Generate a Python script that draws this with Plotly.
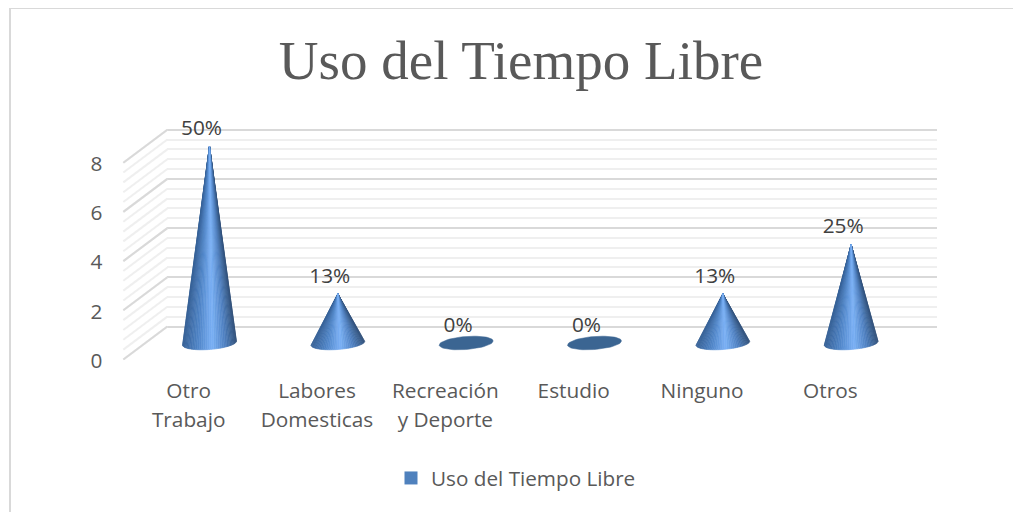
import numpy as np
import plotly.graph_objects as go
from plotly.colors import sample_colorscale

# the page body has an 8px margin, so the figure starts at (8, 8) in the window
PAGE_W, PAGE_H = 1021, 512
OFFSET = 8
WIDTH, HEIGHT = PAGE_W - OFFSET, PAGE_H - OFFSET

categories = ["Otro<br>Trabajo", "Labores<br>Domesticas", "Recreación<br>y Deporte", "Estudio", "Ninguno", "Otros"]
values = [8, 2, 0, 0, 2, 4]
pct_labels = ["50%", "13%", "0%", "0%", "13%", "25%"]
y_ticks = [0, 2, 4, 6, 8]
series_name = "Uso del Tiempo Libre"
chart_title = "Uso del Tiempo Libre"

TEXT = "#595959"
FONT = "Open Sans"
MAJOR = "#d9d9d9"
MINOR = "#efefef"

# pixel scale of the fake 3D box
PX_CAT = 128.33
PX_UNIT = 24.6
X0_PX, Y0_PX = 209.5, 343        # first category, value 0 (mid depth)
DX_PX, DY_PX = 22, 16.5          # half depth of the box

# base ellipse of the cones
RX = 27 / PX_CAT
RY = 6.5 / PX_UNIT
TILT = 2 / PX_UNIT
shades = [[0, "#345f94"], [0.3, "#5287ca"], [0.55, "#7ab0f5"], [0.78, "#5082c2"], [1, "#2f4f78"]]
N_WEDGES = 40


def xdom(left, right):
    return [(left - OFFSET) / WIDTH, (right - OFFSET) / WIDTH]


def ydom(top, bottom):
    return [1 - (bottom - OFFSET) / HEIGHT, 1 - (top - OFFSET) / HEIGHT]


def xpos(px):
    return (px - OFFSET) / WIDTH


def ypos(px):
    return 1 - (px - OFFSET) / HEIGHT


fig = go.Figure()

# subplots are layered in name order: x/y back wall, x2/y2 front axis, x3/y3 cones on top
fig.add_trace(go.Scatter(x=[None], y=[None], showlegend=False, hoverinfo="skip"))
fig.add_trace(go.Scatter(x=[0, 5], y=[None, None], xaxis="x2", yaxis="y2", showlegend=False, hoverinfo="skip"))

left_px, right_px = 100, 960
top_px, bottom_px = 95, 380
main_x = [(left_px - X0_PX) / PX_CAT, (right_px - X0_PX) / PX_CAT]
main_y = [(Y0_PX - bottom_px) / PX_UNIT, (Y0_PX - top_px) / PX_UNIT]

# side wall lines
dx = DX_PX / PX_CAT
dy = DY_PX / PX_UNIT
for step, color in [(0.4, MINOR), (2, MAJOR)]:
    xs, ys = [], []
    for t in np.arange(0, 8.01, step):
        xs += [-0.5 - dx, -0.5 + dx, None]
        ys += [t - dy, t + dy, None]
    fig.add_trace(go.Scatter(x=xs, y=ys, xaxis="x3", yaxis="y3", mode="lines",
                             line=dict(color=color, width=2), showlegend=False, hoverinfo="skip"))

# cones
for i, v in enumerate(values):
    theta = np.linspace(np.pi, 2 * np.pi, N_WEDGES + 1)
    ex = i + RX * np.cos(theta)
    ey = RY * np.sin(theta) + TILT * np.cos(theta)
    if v == 0:
        full = np.linspace(0, 2 * np.pi, 60)
        fig.add_trace(go.Scatter(x=i + RX * np.cos(full), y=RY * np.sin(full) + TILT * np.cos(full),
                                 xaxis="x3", yaxis="y3", mode="lines", fill="toself", fillcolor="#3b6592",
                                 line=dict(color="#3b6592", width=0.5),
                                 showlegend=False, hoverinfo="skip"))
        continue
    mid = (np.cos(theta[:-1]) + np.cos(theta[1:])) / 2
    pos = (mid + 1) / 2
    colors = sample_colorscale(shades, pos)
    # edges first so the light middle stays on top at the tip
    for k in np.argsort(-np.abs(pos - 0.55)):
        fig.add_trace(go.Scatter(x=[i, ex[k], ex[k + 1], i], y=[v, ey[k], ey[k + 1], v],
                                 xaxis="x3", yaxis="y3", mode="lines", fill="toself", fillcolor=colors[k],
                                 line=dict(color=colors[k], width=0.6),
                                 showlegend=False, hoverinfo="skip"))

# data labels
fig.add_trace(go.Scatter(x=[i - 8 / PX_CAT for i in range(len(values))], y=[v + 6 / PX_UNIT for v in values],
                         xaxis="x3", yaxis="y3", mode="text", text=pct_labels, textposition="top center",
                         textfont=dict(family=FONT, size=20.8, color="#404040"),
                         showlegend=False, hoverinfo="skip"))

# legend entry
fig.add_trace(go.Scatter(x=[None], y=[None], xaxis="x3", yaxis="y3", mode="markers", name=series_name,
                         marker=dict(symbol="square", size=13, color="#4f81bd")))

back_bottom = Y0_PX - DY_PX
front_bottom = Y0_PX + DY_PX + 1

tick_text = []
for c in categories:
    parts = c.split("<br>")
    tick_text.append("<br>".join('<span style="font-size:20.8px">%s</span>' % p for p in parts))

fig.update_layout(
    width=WIDTH, height=HEIGHT,
    margin=dict(l=0, r=0, t=0, b=0, autoexpand=False),
    paper_bgcolor="white", plot_bgcolor="rgba(0,0,0,0)",
    font=dict(family=FONT, color=TEXT),
    title=dict(text=chart_title, x=xpos(521), xanchor="center", y=ypos(60), yanchor="middle",
               font=dict(family="Liberation Serif", size=55, color=TEXT)),
    xaxis=dict(domain=xdom(167, 937), range=[0, 1], visible=False, anchor="y"),
    yaxis=dict(domain=ydom(back_bottom - 8.1 * PX_UNIT, back_bottom + 2), anchor="x",
               range=[-2 / PX_UNIT, 8.1], tick0=0, dtick=2, showticklabels=False, ticks="",
               zeroline=False, showgrid=True, gridcolor=MAJOR, gridwidth=2,
               minor=dict(dtick=0.4, showgrid=True, gridcolor=MINOR, gridwidth=2)),
    xaxis2=dict(domain=xdom(124.5, 894.5), range=[-0.5, 5.5], anchor="y2", tickmode="array",
                tickvals=list(range(len(categories))), ticktext=tick_text, tickangle=0,
                tickfont=dict(family=FONT, size=23, color=TEXT), ticklabelstandoff=13,
                showgrid=False, zeroline=False, showline=False, ticks=""),
    yaxis2=dict(domain=ydom(front_bottom - 8.2 * PX_UNIT, front_bottom), anchor="x2", range=[0, 8.2],
                tickmode="array", tickvals=y_ticks, tickfont=dict(family=FONT, size=20.8, color=TEXT),
                ticklabelstandoff=21, showgrid=False, zeroline=False, showline=False, ticks=""),
    xaxis3=dict(domain=xdom(left_px, right_px), range=main_x, visible=False, anchor="y3"),
    yaxis3=dict(domain=ydom(top_px, bottom_px), range=main_y, visible=False, anchor="x3"),
    legend=dict(orientation="h", x=xpos(391), xanchor="left", y=ypos(478), yanchor="middle",
                font=dict(family=FONT, size=20.7, color=TEXT), bgcolor="rgba(0,0,0,0)"),
    shapes=[dict(type="rect", xref="paper", yref="paper", x0=xpos(10), x1=1.01, y0=-0.02, y1=ypos(8),
                 line=dict(color=MAJOR, width=2), layer="below")],
)

fig.write_html("out.html")
